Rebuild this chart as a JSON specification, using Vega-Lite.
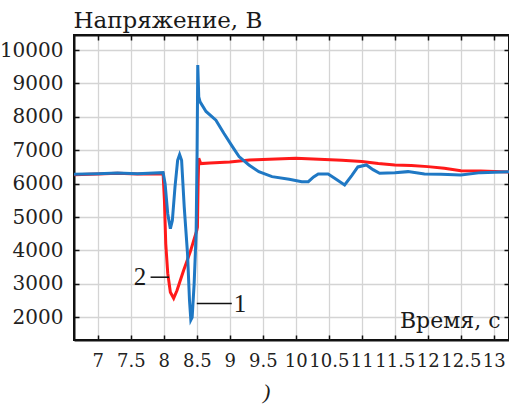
{
  "$schema": "https://vega.github.io/schema/vega-lite/v6.json",
  "width": 435,
  "height": 305,
  "autosize": {"type": "none"},
  "padding": {"left": 74, "top": 35, "right": 0, "bottom": 75},
  "background": "white",
  "title": {"text": ")", "orient": "bottom", "anchor": "start", "frame": "group", "dx": 189, "offset": 12, "font": "Liberation Serif", "fontSize": 22, "fontWeight": "normal", "fontStyle": "italic", "color": "#1a1a1a"},
  "config": {
    "view": {"stroke": "#111111", "strokeWidth": 2},
    "axis": {
      "labelFont": "DejaVu Serif",
      "titleFont": "DejaVu Serif",
      "titleFontWeight": "normal",
      "labelColor": "#222222",
      "titleColor": "#1a1a1a",
      "domainColor": "#111111",
      "domainWidth": 2,
      "tickColor": "#111111",
      "tickWidth": 1.5,
      "tickSize": -5,
      "gridColor": "#d4d4d4",
      "gridWidth": 1.3,
      "labelOverlap": false,
      "labelFlush": false,
      "labelBound": false
    }
  },
  "datasets": {
    "curves": [
      {"t": 6.64, "v": 6270, "s": "2"}, {"t": 7.0, "v": 6290, "s": "2"}, {"t": 7.3, "v": 6310, "s": "2"}, {"t": 7.6, "v": 6290, "s": "2"}, {"t": 7.99, "v": 6290, "s": "2"},
      {"t": 8.01, "v": 5500, "s": "2"}, {"t": 8.03, "v": 4200, "s": "2"}, {"t": 8.06, "v": 3320, "s": "2"}, {"t": 8.1, "v": 2750, "s": "2"}, {"t": 8.15, "v": 2570, "s": "2"},
      {"t": 8.2, "v": 2800, "s": "2"}, {"t": 8.3, "v": 3400, "s": "2"}, {"t": 8.4, "v": 3950, "s": "2"}, {"t": 8.5, "v": 4600, "s": "2"}, {"t": 8.51, "v": 4700, "s": "2"},
      {"t": 8.52, "v": 6000, "s": "2"}, {"t": 8.53, "v": 6760, "s": "2"}, {"t": 8.56, "v": 6600, "s": "2"}, {"t": 8.7, "v": 6620, "s": "2"}, {"t": 9.0, "v": 6650, "s": "2"},
      {"t": 9.3, "v": 6710, "s": "2"}, {"t": 9.6, "v": 6730, "s": "2"}, {"t": 10.0, "v": 6760, "s": "2"}, {"t": 10.35, "v": 6730, "s": "2"}, {"t": 10.7, "v": 6700, "s": "2"},
      {"t": 11.0, "v": 6660, "s": "2"}, {"t": 11.25, "v": 6600, "s": "2"}, {"t": 11.5, "v": 6560, "s": "2"}, {"t": 11.75, "v": 6540, "s": "2"}, {"t": 12.0, "v": 6510, "s": "2"},
      {"t": 12.25, "v": 6460, "s": "2"}, {"t": 12.5, "v": 6390, "s": "2"}, {"t": 12.8, "v": 6380, "s": "2"}, {"t": 13.23, "v": 6350, "s": "2"},
      {"t": 6.64, "v": 6280, "s": "1"}, {"t": 7.0, "v": 6300, "s": "1"}, {"t": 7.3, "v": 6320, "s": "1"}, {"t": 7.6, "v": 6300, "s": "1"}, {"t": 7.99, "v": 6330, "s": "1"},
      {"t": 8.02, "v": 6000, "s": "1"}, {"t": 8.06, "v": 5100, "s": "1"}, {"t": 8.1, "v": 4650, "s": "1"}, {"t": 8.13, "v": 4900, "s": "1"}, {"t": 8.17, "v": 5900, "s": "1"},
      {"t": 8.21, "v": 6700, "s": "1"}, {"t": 8.24, "v": 6870, "s": "1"}, {"t": 8.27, "v": 6700, "s": "1"}, {"t": 8.31, "v": 5300, "s": "1"}, {"t": 8.36, "v": 3900, "s": "1"},
      {"t": 8.39, "v": 2500, "s": "1"}, {"t": 8.41, "v": 1920, "s": "1"}, {"t": 8.43, "v": 2000, "s": "1"}, {"t": 8.46, "v": 3000, "s": "1"}, {"t": 8.49, "v": 4500, "s": "1"},
      {"t": 8.505, "v": 7000, "s": "1"}, {"t": 8.515, "v": 9550, "s": "1"}, {"t": 8.53, "v": 8600, "s": "1"}, {"t": 8.55, "v": 8450, "s": "1"}, {"t": 8.64, "v": 8160, "s": "1"},
      {"t": 8.79, "v": 7900, "s": "1"}, {"t": 8.91, "v": 7510, "s": "1"}, {"t": 9.04, "v": 7110, "s": "1"}, {"t": 9.14, "v": 6810, "s": "1"}, {"t": 9.29, "v": 6560, "s": "1"},
      {"t": 9.44, "v": 6360, "s": "1"}, {"t": 9.64, "v": 6210, "s": "1"}, {"t": 9.9, "v": 6130, "s": "1"}, {"t": 10.09, "v": 6060, "s": "1"}, {"t": 10.19, "v": 6060, "s": "1"},
      {"t": 10.27, "v": 6200, "s": "1"}, {"t": 10.34, "v": 6290, "s": "1"}, {"t": 10.49, "v": 6290, "s": "1"}, {"t": 10.6, "v": 6150, "s": "1"}, {"t": 10.74, "v": 5960, "s": "1"},
      {"t": 10.85, "v": 6250, "s": "1"}, {"t": 10.94, "v": 6500, "s": "1"}, {"t": 11.07, "v": 6560, "s": "1"}, {"t": 11.17, "v": 6420, "s": "1"}, {"t": 11.27, "v": 6310, "s": "1"},
      {"t": 11.5, "v": 6330, "s": "1"}, {"t": 11.7, "v": 6360, "s": "1"}, {"t": 11.95, "v": 6290, "s": "1"}, {"t": 12.2, "v": 6280, "s": "1"}, {"t": 12.5, "v": 6260, "s": "1"},
      {"t": 12.8, "v": 6330, "s": "1"}, {"t": 13.23, "v": 6360, "s": "1"}
    ],
    "labels": [
      {"t": 7.64, "v": 3200, "label": "2"},
      {"t": 9.155, "v": 2400, "label": "1"}
    ],
    "leaders": [
      {"t1": 7.8, "t2": 8.08, "v": 3200},
      {"t1": 8.5, "t2": 9.03, "v": 2410}
    ]
  },
  "layer": [
    {
      "data": {"name": "curves"},
      "transform": [{"filter": "datum.s == '2'"}],
      "mark": {"type": "line", "color": "#ff1a1a", "strokeWidth": 3, "clip": true},
      "encoding": {
        "x": {"field": "t", "type": "quantitative", "scale": {"domain": [6.64, 13.23], "nice": false, "zero": false},
          "axis": {"orient": "bottom", "values": [7, 7.5, 8, 8.5, 9, 9.5, 10, 10.5, 11, 11.5, 12, 12.5, 13], "format": "~g", "labelFontSize": 18, "labelPadding": 17, "grid": true,
            "title": "Время, с", "titleFontSize": 22, "titleX": 426, "titleY": -13, "titleAlign": "right", "titleBaseline": "alphabetic", "titleAnchor": null}},
        "y": {"field": "v", "type": "quantitative", "scale": {"domain": [1320, 10450], "nice": false, "zero": false},
          "axis": {"orient": "left", "values": [2000, 3000, 4000, 5000, 6000, 7000, 8000, 9000, 10000], "format": "d", "labelFontSize": 20, "labelPadding": 16, "grid": true,
            "title": "Напряжение, В", "titleFontSize": 23, "titleAngle": 0, "titleX": -1, "titleY": -8, "titleAlign": "left", "titleBaseline": "alphabetic", "titleAnchor": null}}
      }
    },
    {
      "data": {"name": "curves"},
      "transform": [{"filter": "datum.s == '1'"}],
      "mark": {"type": "line", "color": "#1f78c4", "strokeWidth": 3, "clip": true},
      "encoding": {
        "x": {"field": "t", "type": "quantitative", "scale": {"domain": [6.64, 13.23], "nice": false, "zero": false}, "axis": null},
        "y": {"field": "v", "type": "quantitative", "scale": {"domain": [1320, 10450], "nice": false, "zero": false}, "axis": null}
      }
    },
    {
      "data": {"name": "leaders"},
      "mark": {"type": "rule", "color": "#111111", "strokeWidth": 1.5},
      "encoding": {
        "x": {"field": "t1", "type": "quantitative", "scale": {"domain": [6.64, 13.23], "nice": false, "zero": false}, "axis": null},
        "x2": {"field": "t2"},
        "y": {"field": "v", "type": "quantitative", "scale": {"domain": [1320, 10450], "nice": false, "zero": false}, "axis": null}
      }
    },
    {
      "data": {"name": "labels"},
      "mark": {"type": "text", "font": "Liberation Serif", "fontSize": 25, "color": "#1a1a1a", "align": "center", "baseline": "middle"},
      "encoding": {
        "text": {"field": "label"},
        "x": {"field": "t", "type": "quantitative", "scale": {"domain": [6.64, 13.23], "nice": false, "zero": false},
          "axis": {"orient": "top", "values": [7, 7.5, 8, 8.5, 9, 9.5, 10, 10.5, 11, 11.5, 12, 12.5, 13], "labels": false, "grid": false, "domain": true, "title": null}},
        "y": {"field": "v", "type": "quantitative", "scale": {"domain": [1320, 10450], "nice": false, "zero": false},
          "axis": {"orient": "right", "values": [2000, 3000, 4000, 5000, 6000, 7000, 8000, 9000, 10000], "labels": false, "grid": false, "domain": true, "title": null}}
      }
    }
  ],
  "resolve": {"scale": {"x": "independent", "y": "independent"}, "axis": {"x": "independent", "y": "independent"}}
}
